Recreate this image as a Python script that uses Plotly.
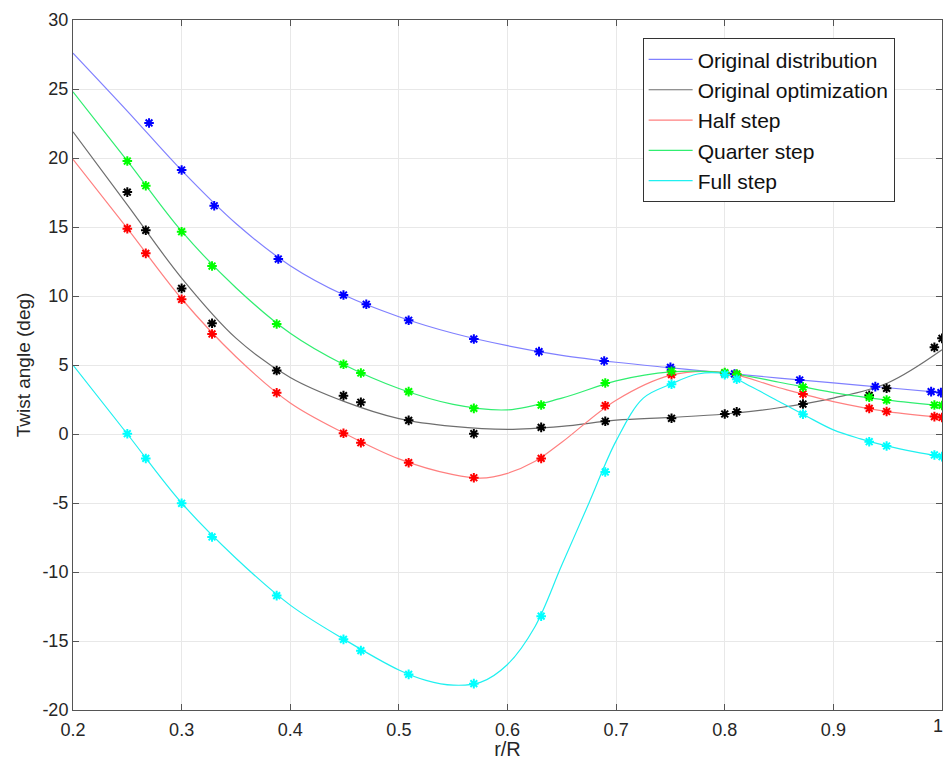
import plotly.graph_objects as go

# ---- marker data (r/R, twist angle) ----
blue_mx = [0.27, 0.30, 0.33, 0.389, 0.449, 0.47, 0.509, 0.569, 0.629, 0.689, 0.75, 0.809, 0.869, 0.9386, 0.99, 0.999]
blue_my = [22.54, 19.13, 16.54, 12.68, 10.07, 9.4, 8.24, 6.88, 5.97, 5.29, 4.83, 4.35, 3.91, 3.43, 3.07, 3.0]

mx = [0.25, 0.267, 0.30, 0.328, 0.3875, 0.449, 0.465, 0.509, 0.569, 0.631, 0.69, 0.751, 0.80, 0.811, 0.872, 0.933, 0.949, 0.993, 1.0]
green_my = [19.78, 17.99, 14.66, 12.17, 7.97, 5.05, 4.42, 3.07, 1.86, 2.1, 3.7, 4.55, 4.45, 4.35, 3.4, 2.66, 2.46, 2.1, 2.07]
black_my = [17.53, 14.76, 10.55, 8.02, 4.6, 2.78, 2.3, 0.99, 0.02, 0.48, 0.92, 1.14, 1.45, 1.6, 2.17, 2.8, 3.31, 6.28, 6.93]
red_my = [14.88, 13.09, 9.76, 7.25, 2.99, 0.05, -0.63, -2.08, -3.17, -1.77, 2.05, 4.3, 4.4, 4.3, 2.9, 1.86, 1.63, 1.26, 1.2]
cyan_my = [0.02, -1.77, -5.02, -7.46, -11.71, -14.88, -15.7, -17.42, -18.09, -13.2, -2.75, 3.6, 4.3, 3.97, 1.44, -0.56, -0.87, -1.52, -1.64]

# ---- fitted curves ----
cx = [0.2, 0.25, 0.3, 0.35, 0.4, 0.45, 0.5, 0.55, 0.6, 0.65, 0.7, 0.75, 0.8, 0.85, 0.9, 0.95, 1.0]
blue_cy = [27.6, 23.4, 19.1, 15.25, 12.2, 10.05, 8.5, 7.3, 6.4, 5.7, 5.2, 4.8, 4.42, 4.05, 3.7, 3.35, 3.0]
green_cy = [24.8, 19.8, 14.7, 10.6, 7.3, 5.0, 3.3, 2.15, 1.75, 2.6, 3.85, 4.5, 4.45, 3.75, 3.0, 2.45, 2.05]
black_cy = [21.9, 16.6, 11.3, 6.95, 4.1, 2.35, 1.12, 0.55, 0.33, 0.55, 1.0, 1.2, 1.45, 1.9, 2.6, 3.7, 6.1]
red_cx = [0.2, 0.25, 0.3, 0.35, 0.4, 0.45, 0.5, 0.55, 0.575, 0.6, 0.625, 0.65, 0.7, 0.75, 0.8, 0.85, 0.9, 0.95, 1.0]
red_cy = [19.9, 14.9, 9.8, 5.6, 2.25, 0.05, -1.8, -2.95, -3.2, -2.85, -2.0, -0.6, 2.45, 4.25, 4.45, 3.35, 2.35, 1.62, 1.2]
cyan_cx = [0.2, 0.25, 0.3, 0.35, 0.4, 0.45, 0.5, 0.525, 0.55, 0.575, 0.6, 0.625, 0.65, 0.675, 0.7, 0.725,
           0.75, 0.775, 0.8, 0.825, 0.85, 0.875, 0.9, 0.925, 0.95, 0.975, 1.0]
cyan_cy = [5.0, 0.0, -5.0, -9.0, -12.4, -14.9, -17.1, -17.85, -18.2, -18.0, -16.7, -14.0, -9.5, -5.0, -0.5, 2.6,
           3.6, 4.35, 4.35, 3.4, 2.35, 1.3, 0.3, -0.35, -0.88, -1.3, -1.65]

x_ticks = [0.2, 0.3, 0.4, 0.5, 0.6, 0.7, 0.8, 0.9, 1.0]
x_tick_text = ["0.2", "0.3", "0.4", "0.5", "0.6", "0.7", "0.8", "0.9", "1"]
y_ticks = [-20, -15, -10, -5, 0, 5, 10, 15, 20, 25, 30]
y_tick_text = ["-20", "-15", "-10", "-5", "0", "5", "10", "15", "20", "25", "30"]

series = [
    ("Original distribution", cx, blue_cy, blue_mx, blue_my, "#8080ff", "#0000ff"),
    ("Original optimization", cx, black_cy, mx, black_my, "#6e6e6e", "#000000"),
    ("Half step", red_cx, red_cy, mx, red_my, "#ff8080", "#ff0000"),
    ("Quarter step", cx, green_cy, mx, green_my, "#30ee70", "#00ff00"),
    ("Full step", cyan_cx, cyan_cy, mx, cyan_my, "#20f0f0", "#00ffff"),
]

FONT = "Liberation Sans, Arial, Helvetica, sans-serif"

fig = go.Figure()
for name, lx, ly, px, py, lc, mc in series:
    fig.add_trace(go.Scatter(x=lx, y=ly, mode="lines", name=name,
                             line=dict(color=lc, width=1.2, shape="spline", smoothing=1.0)))
for name, lx, ly, px, py, lc, mc in series:
    fig.add_trace(go.Scatter(x=px, y=py, mode="markers", showlegend=False,
                             marker=dict(symbol="asterisk-open", size=8, color=mc,
                                         line=dict(color=mc, width=2))))

axis_common = dict(showline=True, linecolor="#555555", linewidth=1, mirror="ticks",
                   ticks="inside", ticklen=6, tickcolor="#555555",
                   showgrid=True, gridcolor="#e8e8e8", gridwidth=1, zeroline=False,
                   ticklabeloverflow="allow", automargin=False,
                   tickfont=dict(family=FONT, size=18, color="#262626"))

# last x tick label drawn right-aligned at its tick so it stays inside the page
shown_ticktext = x_tick_text[:-1] + [""]

fig.update_layout(
    width=946, height=760,
    margin=dict(l=73, r=4, t=20, b=50),
    paper_bgcolor="white", plot_bgcolor="white",
    xaxis=dict(range=[0.2, 1.0], tickvals=x_ticks, ticktext=shown_ticktext, ticklabelstandoff=3,
               title=dict(text="r/R", standoff=2,
                          font=dict(family=FONT, size=20, color="#262626")),
               **axis_common),
    yaxis=dict(range=[-20, 30], tickvals=y_ticks, ticktext=y_tick_text,
               title=dict(text="Twist angle (deg)", standoff=6,
                          font=dict(family=FONT, size=19, color="#262626")),
               **axis_common),
    legend=dict(x=0.6555, y=0.9735, xanchor="left", yanchor="top",
                bgcolor="white", bordercolor="#333333", borderwidth=1,
                font=dict(family=FONT, size=21, color="#111111"),
                tracegroupgap=0, itemwidth=44),
    showlegend=True,
)
fig.add_annotation(x=x_ticks[-1], y=0, xref="x", yref="paper", text=x_tick_text[-1],
                   showarrow=False, xanchor="right", yanchor="top", xshift=3, yshift=-4,
                   font=dict(family=FONT, size=18, color="#262626"))

fig.write_html("out.html")
